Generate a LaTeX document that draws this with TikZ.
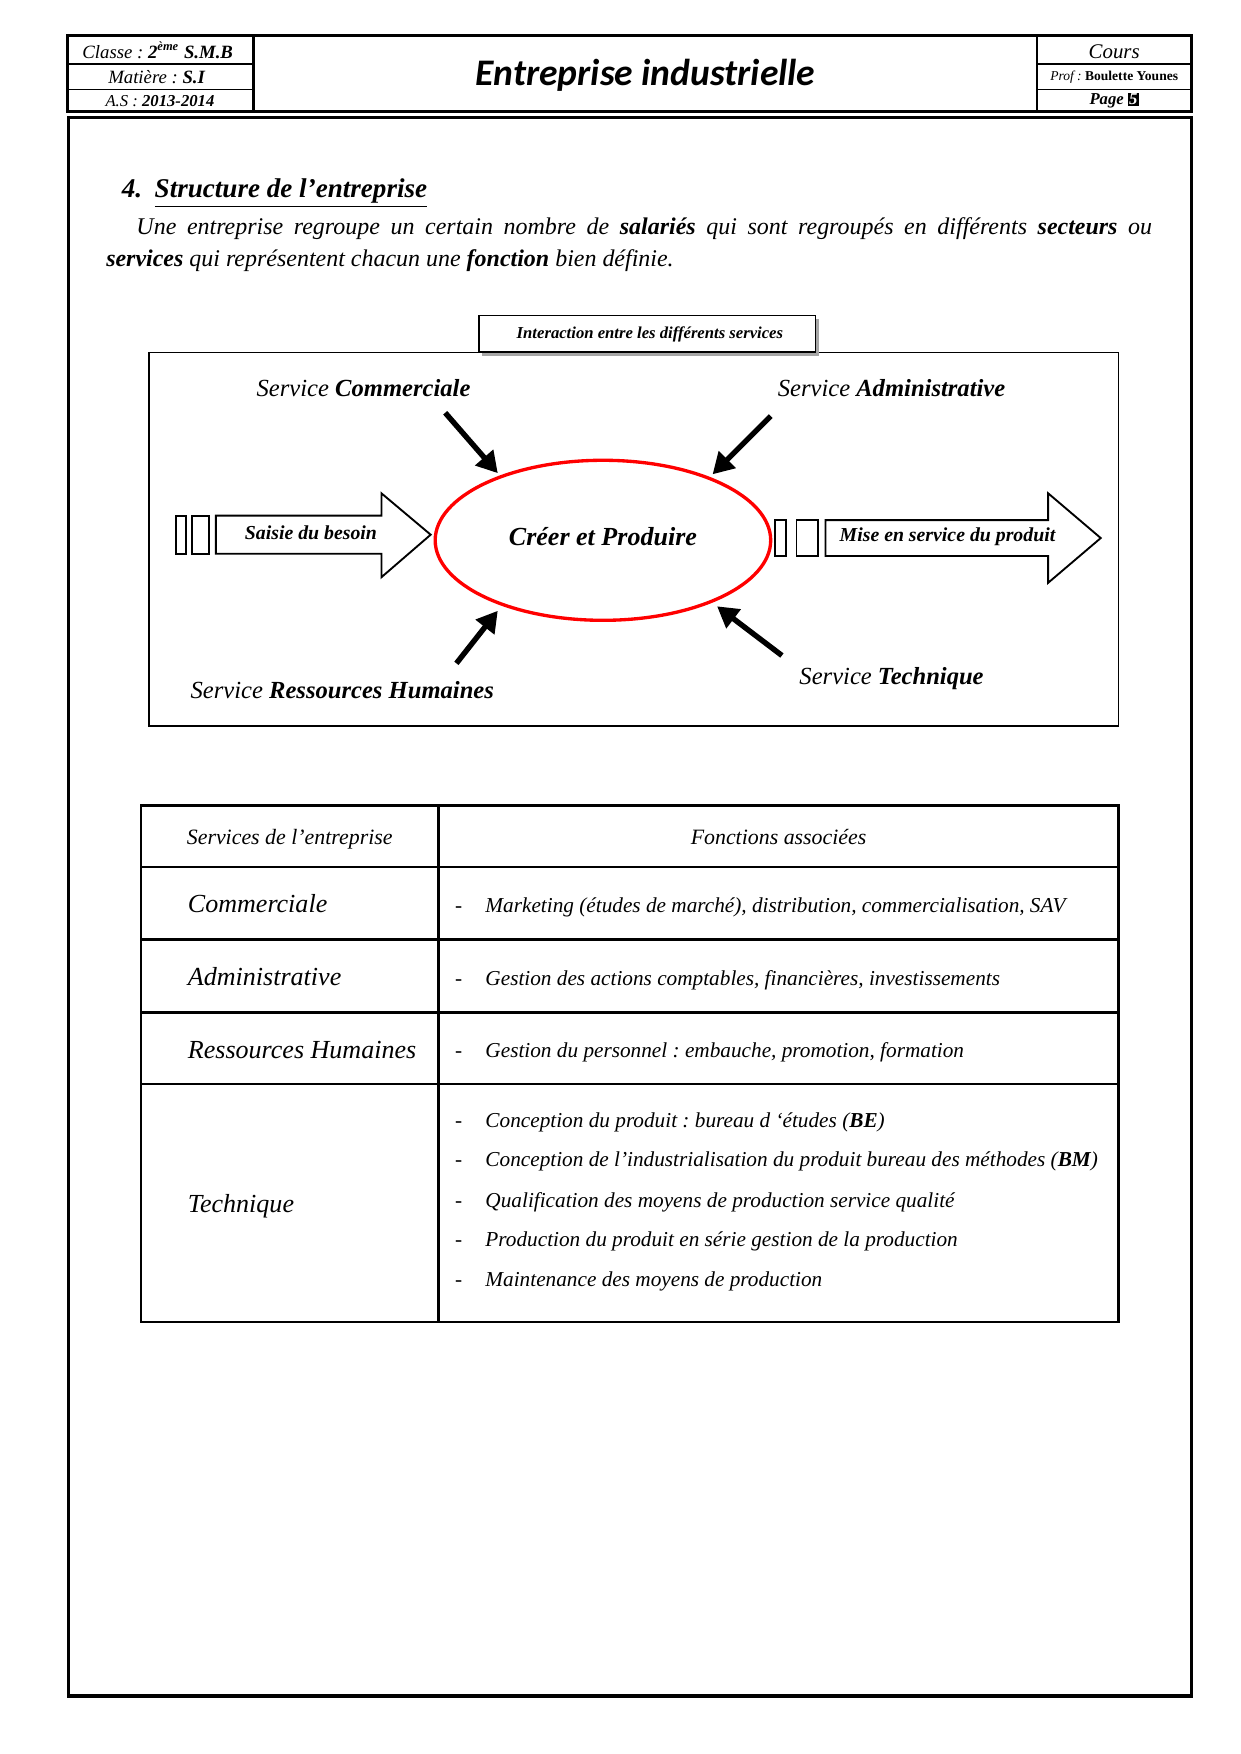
\documentclass[tikz,border=0pt]{standalone}
\usepackage{fontspec}
\setmainfont{Liberation Serif}
\newfontfamily\calfont{Carlito}
\usetikzlibrary{arrows.meta,shapes.geometric}
\newcommand\fsz[2]{\fontsize{#1}{#2}\selectfont}
\frenchspacing
\begin{document}
\begin{tikzpicture}[x=0.5368pt,y=-0.5368pt,
  txt/.style={inner sep=0pt,outer sep=0pt},
  hdrline/.style={line width=1.4pt},
  rowline/.style={line width=0.8pt},
  thickarrow/.style={line width=2.6pt,-{Triangle[length=10pt,width=11pt]}},
  outarrow/.style={line width=0.9pt,fill=white},
  tabline/.style={line width=1.2pt},
  lab/.style={txt,font=\fsz{11.8}{14}\itshape},
  arlab/.style={txt,font=\fsz{9.5}{11}\bfseries\itshape},
  tcol/.style={txt,anchor=base west,font=\fsz{12.5}{15}\itshape},
  tfun/.style={txt,anchor=base west,font=\fsz{10.2}{12}\itshape},
  tdash/.style={txt,anchor=base,font=\fsz{10.2}{12}\itshape}]
\useasboundingbox (0,0) rectangle (1109,1568);
\fill[white] (0,0) rectangle (1109,1568);
% ---------------- header ----------------
\draw[hdrline] (60,32) rectangle (227,100);
\draw[hdrline] (227,32) rectangle (927,100);
\draw[hdrline] (927,32) rectangle (1065,100);
\draw[rowline] (60,57) -- (227,57);
\draw[rowline] (60,80) -- (227,80);
\draw[rowline] (927,57) -- (1065,57);
\draw[rowline] (927,80) -- (1065,80);
\node[txt,font=\fsz{9}{11}\itshape] (cls) at (141,45) {Classe : \textbf{2\textsuperscript{ème} S.M.B}};
\node[txt,font=\fsz{9}{11}\itshape] (mat) at (140,69) {Matière : \textbf{S.I}};
\node[txt,font=\fsz{8}{10}\itshape] (as) at (143,90) {A.S : \textbf{2013-2014}};
\node[txt,font=\calfont\bfseries\itshape\fsz{18}{21}] (title) at (577,67) {Entreprise industrielle};
\node[txt,font=\fsz{10}{12}\itshape] (cours) at (996,46) {Cours};
\node[txt,font=\fsz{6.5}{8}] (prof) at (996,69) {\itshape Prof : \upshape\bfseries Boulette Younes};
\node[txt,font=\fsz{8}{10}\bfseries\itshape] (page) at (996,90) {Page \setlength{\fboxsep}{0.6pt}\colorbox{black}{\textcolor{white}{5}}};
% ---------------- frame ----------------
\draw[line width=1.6pt] (61,105) rectangle (1065,1516);
% ---------------- section ----------------
\node[txt,anchor=base west,font=\fsz{13}{15}\bfseries\itshape] (sec) at (109,177) {4.\hspace{6pt}\underline{Structure de l’entreprise}};
\node[txt,anchor=base west,font=\fsz{11.5}{14}\itshape] (par1) at (122,210) {\makebox[487.4pt][s]{Une entreprise regroupe un certain nombre de \textbf{salariés} qui sont regroupés en différents \textbf{secteurs} ou}};
\node[txt,anchor=base west,font=\fsz{11.5}{14}\itshape] (par2) at (95,238) {\textbf{services} qui représentent chacun une \textbf{fonction} bien définie.};
% ---------------- diagram ----------------
\draw[line width=0.8pt] (133,315) rectangle (1000,649);
\fill[black!35] (431,285) rectangle (732,318);
\draw[line width=0.9pt,fill=white] (428,282) rectangle (729,315);
\node[txt,font=\fsz{8}{10}\bfseries\itshape] (dtitle) at (581,299) {Interaction entre les différents services};
\node[ellipse,draw=red,line width=1.6pt,minimum width=161pt,minimum height=76.8pt,inner sep=0pt] (ell) at (539,483) {};
\node[txt,font=\fsz{12.5}{15}\bfseries\itshape] (cp) at (539,480) {Créer et Produire};
% left input arrow
\draw[line width=0.9pt] (157,461) rectangle (166,495);
\draw[line width=0.9pt] (172,461) rectangle (187,495);
\draw[outarrow] (193,461) -- (341,461) -- (341,441) -- (385,478) -- (341,516) -- (341,495) -- (193,495) -- cycle;
\node[arlab] (saisie) at (278,476) {Saisie du besoin};
% right output arrow
\draw[line width=0.9pt] (693,465) rectangle (703,497);
\draw[line width=0.9pt] (712,465) rectangle (731,497);
\draw[outarrow] (738,465) -- (937,465) -- (937,441) -- (984,481) -- (937,521) -- (937,497) -- (738,497) -- cycle;
\node[arlab] (mise) at (847,480) {Mise en service du produit};
% service labels
\node[lab] (lcom) at (325,347) {Service \textbf{Commerciale}};
\node[lab] (ladm) at (797,347) {Service \textbf{Administrative}};
\node[lab] (lrh) at (306,617) {Service \textbf{Ressources Humaines}};
\node[lab] (ltec) at (797,607) {Service \textbf{Technique}};
% service arrows
\coordinate (acs) at (398,369); \coordinate (ace) at (445,423);
\coordinate (aas) at (689,372); \coordinate (aae) at (637,424);
\coordinate (ars) at (408,593); \coordinate (are) at (445,546);
\coordinate (ats) at (699,586); \coordinate (ate) at (641,542);
\draw[thickarrow] (acs) -- (ace);
\draw[thickarrow] (aas) -- (aae);
\draw[thickarrow] (ars) -- (are);
\draw[thickarrow] (ats) -- (ate);
% ---------------- table ----------------
\draw[tabline] (126,720) rectangle (1000,1182);
\draw[tabline] (392,720) -- (392,1182);
\draw[tabline] (126,775) -- (1000,775);
\draw[tabline] (126,840) -- (1000,840);
\draw[tabline] (126,905) -- (1000,905);
\draw[tabline] (126,969) -- (1000,969);
\node[txt,anchor=base,font=\fsz{10.5}{12}\itshape] (th1) at (259,755) {Services de l’entreprise};
\node[txt,anchor=base,font=\fsz{10.5}{12}\itshape] (th2) at (696,755) {Fonctions associées};
\node[tcol] (c1) at (168,816) {Commerciale};
\node[tcol] (c2) at (168,881) {Administrative};
\node[tcol] (c3) at (168,946) {Ressources Humaines};
\node[tcol] (c4) at (168,1084) {Technique};
\node[tdash] (d1) at (410,816) {-};
\node[tfun] (f1) at (434,816) {Marketing (études de marché), distribution, commercialisation, SAV};
\node[tdash] (d2) at (410,881) {-};
\node[tfun] (f2) at (434,881) {Gestion des actions comptables, financières, investissements};
\node[tdash] (d3) at (410,945) {-};
\node[tfun] (f3) at (434,945) {Gestion du personnel : embauche, promotion, formation};
\node[tdash] (d4) at (410,1008) {-};
\node[tfun] (f4) at (434,1008) {Conception du produit : bureau d ‘études (\textbf{BE})};
\node[tdash] (d5) at (410,1043) {-};
\node[tfun] (f5) at (434,1043) {Conception de l’industrialisation du produit bureau des méthodes (\textbf{BM})};
\node[tdash] (d6) at (410,1079) {-};
\node[tfun] (f6) at (434,1079) {Qualification des moyens de production service qualité};
\node[tdash] (d7) at (410,1114) {-};
\node[tfun] (f7) at (434,1114) {Production du produit en série gestion de la production};
\node[tdash] (d8) at (410,1150) {-};
\node[tfun] (f8) at (434,1150) {Maintenance des moyens de production};
\end{tikzpicture}
\end{document}
